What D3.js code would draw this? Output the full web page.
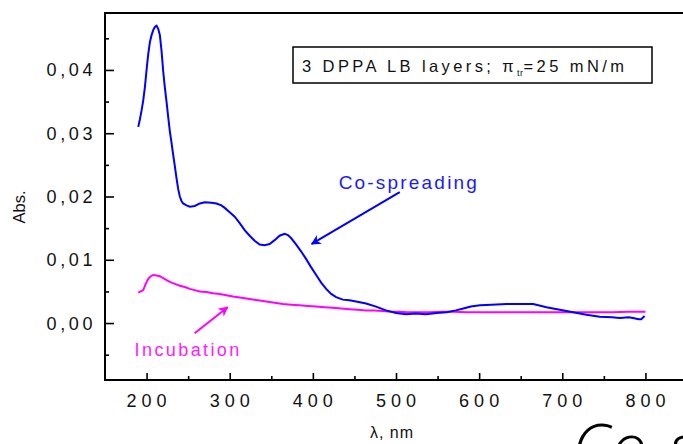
<!DOCTYPE html>
<html>
<head lang="en">
    <meta charset="UTF-8">
    <title></title>
    <script src="https://cdn.jsdelivr.net/npm/d3@7"></script>
    <style>
        body { margin: 0; background: #fff; }
        text { font-family: "Liberation Sans", Arial, sans-serif; }
    </style>
</head>
<body>
<div id="main"></div>
<script>
    // spectra
    var coWl = [190, 192, 194, 196, 198, 200, 202, 204, 206, 208, 210, 212, 214, 216, 218, 220,
        222, 224, 226, 228, 230, 232, 234, 236, 238, 240, 242, 244, 248, 252, 258, 264, 270, 278,
        284, 290, 294, 300, 306, 312, 318, 324, 330, 336, 342, 348, 354, 360, 366, 370, 374, 380,
        386, 392, 398, 404, 410, 416, 422, 428, 436, 444, 452, 464, 476, 488, 500, 512, 524, 536,
        549, 561, 572, 581, 590, 601, 615, 633, 650, 665, 681, 697, 713, 729, 745, 760, 769, 780,
        785, 792, 795, 799];
    var coAbs = [0.0310, 0.0322, 0.0336, 0.0352, 0.0373, 0.0400, 0.0425, 0.0444, 0.0455, 0.0463,
        0.0468, 0.0470, 0.0465, 0.0455, 0.0430, 0.0398, 0.0372, 0.0350, 0.0326, 0.0303, 0.0285,
        0.0266, 0.0248, 0.0229, 0.0212, 0.0200, 0.0193, 0.0189, 0.0186, 0.0184, 0.0185, 0.0189,
        0.0191, 0.0190, 0.0189, 0.0186, 0.0182, 0.0175, 0.0168, 0.0158, 0.0147, 0.0138, 0.0130,
        0.0124, 0.0123, 0.0125, 0.0131, 0.0138, 0.0141, 0.0139, 0.0134, 0.0124, 0.0113, 0.0101,
        0.0088, 0.0076, 0.0064, 0.0054, 0.0046, 0.0041, 0.0037, 0.0036, 0.0034, 0.0031, 0.0026,
        0.0020, 0.0016, 0.0014, 0.0015, 0.0014, 0.0016, 0.0017, 0.0020, 0.0023, 0.0026, 0.0028,
        0.0029, 0.0030, 0.0030, 0.0030, 0.0025, 0.0021, 0.0017, 0.0013, 0.0010, 0.0009, 0.0008,
        0.0009, 0.0008, 0.0006, 0.0006, 0.0011];

    var incWl = [190, 193, 196, 199, 202, 205, 208, 212, 216, 220, 224, 228, 234, 240, 246, 252,
        258, 264, 272, 280, 288, 296, 304, 314, 324, 334, 344, 354, 364, 374, 384, 394, 404, 414,
        424, 434, 444, 454, 464, 474, 484, 494, 504, 514, 524, 540, 556, 570, 585, 600, 620, 640,
        660, 680, 700, 720, 740, 760, 780, 800];
    var incAbs = [0.0048, 0.0050, 0.0052, 0.0062, 0.0070, 0.0074, 0.0076, 0.0075, 0.0074, 0.0071,
        0.0068, 0.0065, 0.0062, 0.0059, 0.0057, 0.0054, 0.0052, 0.0050, 0.0049, 0.0047, 0.0046,
        0.0044, 0.0042, 0.0040, 0.0038, 0.0036, 0.0034, 0.0032, 0.0030, 0.0029, 0.0028, 0.0027,
        0.0026, 0.0025, 0.0024, 0.0023, 0.0022, 0.0021, 0.0020, 0.0020, 0.0019, 0.0018, 0.0018,
        0.0017, 0.0017, 0.0017, 0.0018, 0.0018, 0.0017, 0.0017, 0.0017, 0.0017, 0.0017, 0.0017,
        0.0017, 0.0017, 0.0017, 0.0017, 0.0018, 0.0018];

    var xTicks = [200, 300, 400, 500, 600, 700, 800];
    var xMinor = [250, 350, 450, 550, 650, 750];
    var yTicks = [0, 0.01, 0.02, 0.03, 0.04];
    var yMinor = [-0.005, 0.005, 0.015, 0.025, 0.035, 0.045];

    var W = 683, H = 444;
    // plot frame (window.top is taken, so pX names)
    var pLeft = 105, pTop = 13, pRight = 687, pBottom = 380;

    var x = d3.scaleLinear().domain([150, 850]).range([pLeft, pRight]);
    var y = d3.scaleLinear().domain([-0.009, 0.049]).range([pBottom, pTop]);
    var fmt = function(d){ return d3.format(".2f")(d).replace(".", ","); };

    var svg = d3.select("#main").append("svg")
            .attr("width", W)
            .attr("height", H);

    // ticks point into the plot
    var xAxis = d3.axisTop(x).tickValues(xTicks).tickSize(7).tickFormat("");
    var xAxisMinor = d3.axisTop(x).tickValues(xMinor).tickSize(4).tickFormat("");
    var yAxis = d3.axisRight(y).tickValues(yTicks).tickSize(9).tickFormat("");
    var yAxisMinor = d3.axisRight(y).tickValues(yMinor).tickSize(4).tickFormat("");

    [xAxis, xAxisMinor].forEach(function(a){
        svg.append("g").attr("transform", "translate(0," + pBottom + ")").call(a)
            .call(function(g){ g.select(".domain").remove(); })
            .selectAll("line").attr("stroke", "#000").attr("stroke-width", 1.6);
    });
    [yAxis, yAxisMinor].forEach(function(a){
        svg.append("g").attr("transform", "translate(" + pLeft + ",0)").call(a)
            .call(function(g){ g.select(".domain").remove(); })
            .selectAll("line").attr("stroke", "#000").attr("stroke-width", 1.6);
    });

    svg.append("rect")
        .attr("x", pLeft).attr("y", pTop)
        .attr("width", pRight - pLeft).attr("height", pBottom - pTop)
        .attr("fill", "none").attr("stroke", "#000").attr("stroke-width", 2);

    svg.selectAll("text.xl").data(xTicks).enter().append("text")
        .attr("class", "xl")
        .attr("x", function(d){ return x(d) + 2.5; })
        .attr("y", 407)
        .attr("text-anchor", "middle")
        .attr("font-size", 18)
        .attr("letter-spacing", 5)
        .attr("fill", "#111")
        .text(function(d){ return d; });

    svg.selectAll("text.yl").data(yTicks).enter().append("text")
        .attr("class", "yl")
        .attr("x", 96)
        .attr("y", function(d){ return y(d) + 6.5; })
        .attr("text-anchor", "end")
        .attr("font-size", 18)
        .attr("letter-spacing", 3.6)
        .attr("fill", "#111")
        .text(fmt);

    svg.append("text")
        .attr("transform", "translate(25,207) rotate(-90)")
        .attr("text-anchor", "middle")
        .attr("font-size", 16.5)
        .attr("fill", "#111")
        .text("Abs.");

    svg.append("text")
        .attr("x", 392).attr("y", 438)
        .attr("text-anchor", "middle")
        .attr("font-size", 16)
        .attr("letter-spacing", 1)
        .attr("fill", "#111")
        .text("λ, nm");

    var line = d3.line()
            .x(function(d){ return x(d[0]); })
            .y(function(d){ return y(d[1]); });

    svg.append("path")
        .datum(d3.zip(incWl, incAbs))
        .attr("d", line)
        .attr("fill", "none")
        .attr("stroke", "#ff00ff")
        .attr("stroke-width", 2);

    svg.append("path")
        .datum(d3.zip(coWl, coAbs))
        .attr("d", line)
        .attr("fill", "none")
        .attr("stroke", "#0000ff")
        .attr("stroke-width", 2);

    // legend box
    svg.append("rect")
        .attr("x", 293).attr("y", 47)
        .attr("width", 359).attr("height", 36)
        .attr("fill", "#fff").attr("stroke", "#000").attr("stroke-width", 1.5);
    var lt = svg.append("text")
            .attr("x", 302).attr("y", 72)
            .attr("font-size", 16.5)
            .attr("letter-spacing", 3.4)
            .attr("fill", "#111");
    lt.append("tspan").text("3 DPPA LB layers; π");
    lt.append("tspan").attr("font-size", 9).attr("dy", 4).attr("letter-spacing", 0.5).text("tr");
    lt.append("tspan").attr("dy", -4).text("=25 mN/m");

    // annotations with arrows
    svg.append("defs").selectAll("marker")
        .data([["arBlue", "#0000ff"], ["arPink", "#ff00ff"]])
        .enter().append("marker")
        .attr("id", function(d){ return d[0]; })
        .attr("viewBox", "0 0 10 10")
        .attr("refX", 9).attr("refY", 5)
        .attr("markerWidth", 6).attr("markerHeight", 5)
        .attr("orient", "auto")
        .append("path")
        .attr("d", "M0,0 L10,5 L0,10 L3,5 Z")
        .attr("fill", function(d){ return d[1]; });

    svg.append("line")
        .attr("x1", x(504.5)).attr("y1", y(0.0207))
        .attr("x2", x(398.6)).attr("y2", y(0.0125))
        .attr("stroke", "#0000ff").attr("stroke-width", 2)
        .attr("marker-end", "url(#arBlue)");
    svg.append("text")
        .attr("x", x(431)).attr("y", y(0.0212))
        .attr("font-size", 19)
        .attr("letter-spacing", 2.2)
        .attr("fill", "#1a1aff")
        .text("Co-spreading");

    svg.append("line")
        .attr("x1", x(257.8)).attr("y1", y(-0.0016))
        .attr("x2", x(297.5)).attr("y2", y(0.0025))
        .attr("stroke", "#ff00ff").attr("stroke-width", 2)
        .attr("marker-end", "url(#arPink)");
    svg.append("text")
        .attr("x", x(185.6)).attr("y", y(-0.0052))
        .attr("font-size", 18)
        .attr("letter-spacing", 2.4)
        .attr("fill", "#ff1aff")
        .text("Incubation");

    // stray large caption cut off at the page corner
    svg.append("text")
        .attr("x", 572).attr("y", 470)
        .attr("font-size", 64)
        .attr("font-style", "italic")
        .attr("font-weight", 300)
        .attr("letter-spacing", 1)
        .attr("fill", "#000")
        .style("font-family", "'Open Sans', sans-serif")
        .text("Co-s");
</script>
</body>
</html>
